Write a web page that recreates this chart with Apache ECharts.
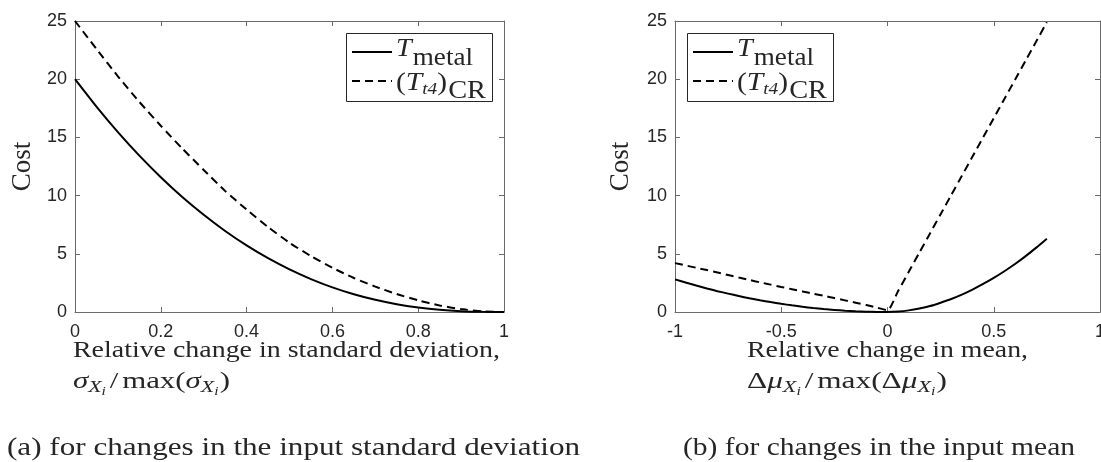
<!DOCTYPE html>
<html>
<head>
<meta charset="utf-8">
<script src="https://cdn.jsdelivr.net/npm/echarts@6/dist/echarts.min.js"></script>
<style>
  html, body { margin: 0; padding: 0; background: #fff; }
  #chart { width: 1101px; height: 462px; }
</style>
</head>
<body>
<div id="chart"></div>
<script>
// ---- data: cost vs relative change in standard deviation (panel a) ----
const sdX = [0, 0.05, 0.1, 0.15, 0.2, 0.25, 0.3, 0.35, 0.4, 0.45, 0.5,
             0.55, 0.6, 0.65, 0.7, 0.75, 0.8, 0.85, 0.9, 0.95, 1];
const sdMetal = [20, 17.64, 15.45, 13.43, 11.58, 9.88, 8.35, 6.96, 5.72, 4.62, 3.66,
                 2.83, 2.12, 1.53, 1.05, 0.67, 0.39, 0.19, 0.07, 0.013, 0];
const sdT4 = [25, 22.6, 20.25, 18.05, 16.0, 14.05, 12.2, 10.4, 8.8, 7.3, 5.95,
              4.8, 3.8, 2.92, 2.18, 1.54, 1.0, 0.56, 0.25, 0.06, 0];

// ---- data: cost vs relative change in mean (panel b) ----
const meanX = [-1, -0.95, -0.9, -0.85, -0.8, -0.75, -0.7, -0.65, -0.6, -0.55, -0.5,
               -0.45, -0.4, -0.35, -0.3, -0.25, -0.2, -0.15, -0.1, -0.05, 0,
               0.05, 0.1, 0.15, 0.2, 0.25, 0.3, 0.35, 0.4, 0.45, 0.5,
               0.55, 0.6, 0.65, 0.7, 0.75];
const meanMetal = [2.8, 2.53, 2.27, 2.02, 1.79, 1.58, 1.37, 1.18, 1.01, 0.85, 0.7,
                   0.57, 0.45, 0.34, 0.25, 0.18, 0.11, 0.06, 0.03, 0.01, 0,
                   0.04, 0.14, 0.3, 0.51, 0.8, 1.12, 1.5, 1.93, 2.41, 2.93,
                   3.5, 4.12, 4.8, 5.53, 6.3];
const meanT4 = [4.2, 4.0, 3.8, 3.6, 3.4, 3.18, 2.96, 2.75, 2.55, 2.35, 2.15,
                1.96, 1.77, 1.58, 1.39, 1.2, 1.0, 0.8, 0.6, 0.38, 0.15,
                1.8, 3.45, 5.1, 6.75, 8.4, 10.05, 11.7, 13.35, 15.0, 16.65,
                18.3, 19.95, 21.6, 23.25, 24.9];

// ---- tick values ----
const sdTicks = [0, 0.2, 0.4, 0.6, 0.8, 1];
const meanTicks = [-1, -0.5, 0, 0.5, 1];
const costTicks = [0, 5, 10, 15, 20, 25];

const ink = '#262626';
const axisCol = '#6a6a6a';
const serif = '"Liberation Serif", "Times New Roman", serif';
const sans = '"Liberation Sans", Arial, Helvetica, sans-serif';

const pairs = (xs, ys) => xs.map((x, i) => [x, ys[i]]);

// ---- axes (boxed, ticks inside on all four sides) ----
function axis(kind, grid, pos, ticks, labels) {
  return {
    type: 'value', gridIndex: grid, position: pos,
    min: ticks[0], max: ticks[ticks.length - 1], interval: ticks[1] - ticks[0],
    axisLine: { show: true, onZero: false, lineStyle: { color: axisCol, width: 1 } },
    axisTick: { show: true, inside: true, length: 5, lineStyle: { color: axisCol, width: 1 } },
    axisLabel: { show: labels, color: ink, fontFamily: sans, fontSize: 18,
                 margin: kind === 'x' ? 11 : 8 },
    splitLine: { show: false }
  };
}

const grids = [
  { left: 75, top: 21, width: 429, height: 291, containLabel: false, outerBoundsMode: 'none' },
  { left: 675, top: 21, width: 425, height: 291, containLabel: false, outerBoundsMode: 'none' }
];

// ---- text runs (math-style labels built from pieces) ----
const mctx = document.createElement('canvas').getContext('2d');
function fontOf(r) { return (r.it ? 'italic ' : '') + r.size + 'px ' + serif; }
function runLine(x0, baseline, runs, fitWidth, z) {
  let cx = 0;
  const kids = [];
  runs.forEach(r => {
    const f = fontOf(r);
    mctx.font = f;
    const w = mctx.measureText(r.t).width;
    kids.push({
      type: 'text', x: cx, y: (r.dy || 0) - 0.32 * r.size, silent: true, z: z || 0,
      style: { text: r.t, font: f, fill: ink, align: 'left', verticalAlign: 'middle' }
    });
    cx += w + (r.gap || 0);
  });
  return { type: 'group', x: x0, y: baseline, scaleX: fitWidth ? fitWidth / cx : 1, children: kids };
}

function legend(bx, by) {
  const w = 146, h = 68;
  return [
    { type: 'rect', shape: { x: bx + 0.5, y: by + 0.5, width: w, height: h },
      style: { fill: '#fff', stroke: ink, lineWidth: 1 }, z: 10 },
    { type: 'line', shape: { x1: bx + 6, y1: by + 19, x2: bx + 46, y2: by + 19 },
      style: { stroke: '#000', lineWidth: 2 }, z: 11 },
    { type: 'line', shape: { x1: bx + 6, y1: by + 48, x2: bx + 46, y2: by + 48 },
      style: { stroke: '#000', lineWidth: 2, lineDash: [8, 5] }, z: 11 },
    runLine(bx + 50, by + 24, [
      { t: 'T', size: 26, it: true, gap: 1 },
      { t: 'metal', size: 25, dy: 9 }
    ], 77, 11),
    runLine(bx + 50, by + 58, [
      { t: '(', size: 26 },
      { t: 'T', size: 26, it: true },
      { t: 't4', size: 17, it: true, dy: 4 },
      { t: ')', size: 26, gap: 1 },
      { t: 'CR', size: 25, dy: 8 }
    ], 90, 11)
  ];
}

function costLabel(cx) {
  return { type: 'text', x: cx, y: 166.5, rotation: Math.PI / 2, silent: true,
           style: { text: 'Cost', font: '27px ' + serif, fill: ink, align: 'center', verticalAlign: 'middle' } };
}

const graphics = [
  costLabel(23), costLabel(621),
  ...legend(346, 33), ...legend(687, 33),
  // panel (a) x-axis title
  runLine(73, 358, [{ t: 'Relative change in standard deviation,', size: 24 }], 427),
  runLine(73, 389, [
    { t: 'σ', size: 24, it: true },
    { t: 'X', size: 17, it: true, dy: 4 },
    { t: 'i', size: 12, it: true, dy: 7, gap: 3 },
    { t: '/', size: 24, gap: 3 },
    { t: 'max(', size: 24 },
    { t: 'σ', size: 24, it: true },
    { t: 'X', size: 17, it: true, dy: 4 },
    { t: 'i', size: 12, it: true, dy: 7, gap: 1 },
    { t: ')', size: 24 }
  ], 157),
  // panel (b) x-axis title
  runLine(747, 358, [{ t: 'Relative change in mean,', size: 24 }], 281),
  runLine(747, 389, [
    { t: 'Δ', size: 24 },
    { t: 'μ', size: 24, it: true },
    { t: 'X', size: 17, it: true, dy: 4 },
    { t: 'i', size: 12, it: true, dy: 7, gap: 3 },
    { t: '/', size: 24, gap: 3 },
    { t: 'max(Δ', size: 24 },
    { t: 'μ', size: 24, it: true },
    { t: 'X', size: 17, it: true, dy: 4 },
    { t: 'i', size: 12, it: true, dy: 7, gap: 1 },
    { t: ')', size: 24 }
  ], 200),
  // captions
  runLine(7, 456, [{ t: '(a) for changes in the input standard deviation', size: 26 }], 573),
  runLine(683, 456, [{ t: '(b) for changes in the input mean', size: 26 }], 392)
];

const lineSeries = (name, xi, yi, data, dashed) => ({
  name, type: 'line', xAxisIndex: xi, yAxisIndex: yi, data,
  showSymbol: false, symbol: 'none', clip: true, animation: false, smooth: 0.2,
  lineStyle: { color: '#000', width: 2, type: dashed ? [8, 5] : 'solid' }
});

const chart = echarts.init(document.getElementById('chart'), null, { renderer: 'canvas' });
chart.setOption({
  animation: false,
  backgroundColor: '#fff',
  grid: grids,
  xAxis: [
    axis('x', 0, 'bottom', sdTicks, true),
    axis('x', 0, 'top', sdTicks, false),
    axis('x', 1, 'bottom', meanTicks, true),
    axis('x', 1, 'top', meanTicks, false)
  ],
  yAxis: [
    axis('y', 0, 'left', costTicks, true),
    axis('y', 0, 'right', costTicks, false),
    axis('y', 1, 'left', costTicks, true),
    axis('y', 1, 'right', costTicks, false)
  ],
  series: [
    lineSeries('T_metal', 0, 0, pairs(sdX, sdMetal), false),
    lineSeries('(T_t4)_CR', 0, 0, pairs(sdX, sdT4), true),
    lineSeries('T_metal', 2, 2, pairs(meanX, meanMetal), false),
    lineSeries('(T_t4)_CR', 2, 2, pairs(meanX, meanT4), true)
  ],
  graphic: graphics
});
</script>
</body>
</html>
